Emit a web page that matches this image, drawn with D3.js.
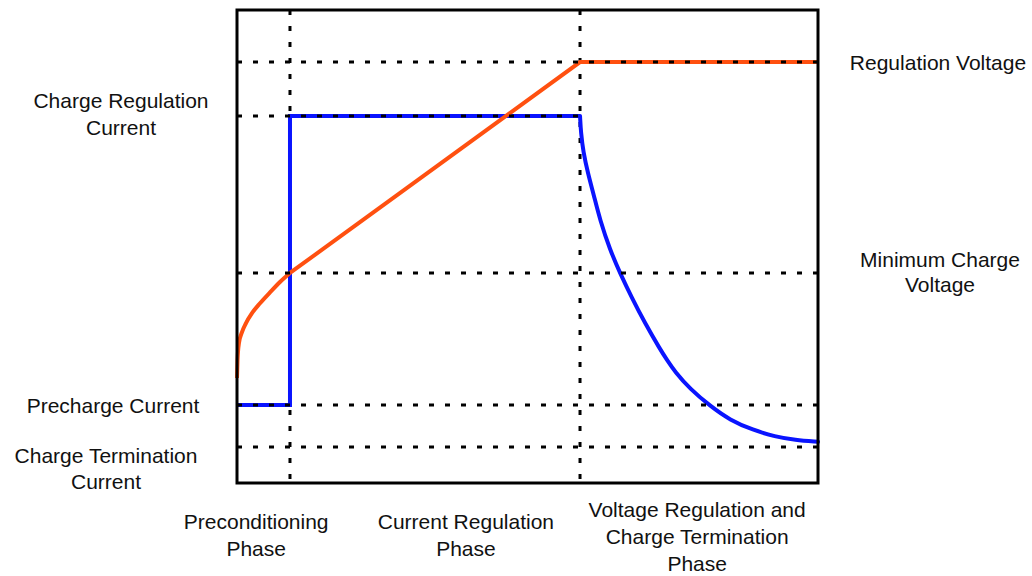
<!DOCTYPE html>
<html>
<head>
<meta charset="utf-8">
<script src="https://cdn.jsdelivr.net/npm/d3@7"></script>
<style>
    html, body { margin: 0; padding: 0; background: #fff; }
    text { font-family: "Liberation Sans", Arial, sans-serif; font-size: 21px; fill: #111; }
</style>
</head>
<body>
<svg id="charge-profile-chart"></svg>
<script>
// time axis 0..100 (phase boundaries), level axis 0..100
const PHASE_BOUNDARIES = [9.12, 59.04];

const PHASES = [
    { lines: ["Preconditioning", "Phase"], at: 3.3 },
    { lines: ["Current Regulation", "Phase"], at: 39.4 },
    { lines: ["Voltage Regulation and", "Charge Termination", "Phase"], at: 79.2 }
];

const CURRENT_LEVELS = [
    { level: 77.6, lines: ["Charge Regulation", "Current"], to: 59.04 },
    { level: 16.5, lines: ["Precharge Current"], to: 100 },
    { level: 7.6, lines: ["Charge Termination", "Current"], to: 100 }
];

const VOLTAGE_LEVELS = [
    { level: 89.0, lines: ["Regulation Voltage"], to: 100 },
    { level: 44.4, lines: ["Minimum Charge", "Voltage"], to: 100 }
];

// battery voltage (orange)
const VOLTAGE_PRECHARGE = [
    [0, 22.2], [0.09, 26.0], [0.34, 29.6], [0.86, 31.9], [1.55, 33.8],
    [2.58, 35.9], [3.96, 38.0], [5.68, 40.3], [7.40, 42.5], [9.12, 44.4]
];
const VOLTAGE_RAMP = [[9.12, 44.4], [59.04, 89.0], [100, 89.0]];

// charge current (blue)
const CURRENT_STEP = [[0, 16.5], [9.12, 16.5], [9.12, 77.6], [59.04, 77.6]];
const CURRENT_TAPER = [
    [59.04, 77.6], [59.20, 74.0], [59.60, 70.0], [60.40, 65.5], [61.45, 60.7],
    [62.48, 55.6], [64.20, 49.3], [65.92, 44.4], [67.99, 39.1], [70.22, 33.8],
    [72.81, 28.3], [74.01, 26.0], [75.39, 23.5], [77.97, 19.9], [81.41, 16.3],
    [84.85, 13.3], [88.81, 11.2], [92.60, 9.8], [96.04, 9.1], [100, 8.7]
];

const WIDTH = 1032;
const HEIGHT = 576;
const PLOT = { left: 237, right: 818, top: 10, bottom: 483 };

const LEFT_LABEL_LAYOUT = [
    { x: 121, dy: -8, lineHeight: 27 },
    { x: 113, dy: 8, lineHeight: 26 },
    { x: 106, dy: 16, lineHeight: 26 }
];
const RIGHT_LABEL_LAYOUT = [
    { x: 938, dy: 8, lineHeight: 25 },
    { x: 940, dy: -6, lineHeight: 25 }
];

const svg = d3.select("#charge-profile-chart")
    .attr("width", WIDTH)
    .attr("height", HEIGHT);

const xScale = d3.scaleLinear().domain([0, 100]).range([PLOT.left, PLOT.right]);
const yScale = d3.scaleLinear().domain([0, 100]).range([PLOT.bottom, PLOT.top]);

const straight = d3.line()
    .x(d => xScale(d[0]))
    .y(d => yScale(d[1]));
const smooth = d3.line()
    .x(d => xScale(d[0]))
    .y(d => yScale(d[1]))
    .curve(d3.curveMonotoneX);
const spline = d3.line()
    .x(d => xScale(d[0]))
    .y(d => yScale(d[1]))
    .curve(d3.curveBasis);

// vertical phase separators (under the traces)
svg.selectAll(".phase-line")
    .data(PHASE_BOUNDARIES)
    .enter()
    .append("line")
        .classed("phase-line", true)
        .attr("x1", d => xScale(d))
        .attr("x2", d => xScale(d))
        .attr("y1", yScale(100))
        .attr("y2", yScale(0))
        .attr("stroke", "#000")
        .attr("stroke-width", 3)
        .attr("stroke-dasharray", "5,11");

// traces
const ORANGE = "#ff5010";
const BLUE = "#0a14ff";

svg.append("path")
    .attr("d", straight(CURRENT_STEP))
    .attr("fill", "none").attr("stroke", BLUE).attr("stroke-width", 4);
svg.append("path")
    .attr("d", spline(CURRENT_TAPER))
    .attr("fill", "none").attr("stroke", BLUE).attr("stroke-width", 4)
    .attr("stroke-linecap", "round");
svg.append("path")
    .attr("d", smooth(VOLTAGE_PRECHARGE))
    .attr("fill", "none").attr("stroke", ORANGE).attr("stroke-width", 4);
svg.append("path")
    .attr("d", straight(VOLTAGE_RAMP))
    .attr("fill", "none").attr("stroke", ORANGE).attr("stroke-width", 4);

// horizontal level lines (on top of the traces)
const levels = CURRENT_LEVELS.concat(VOLTAGE_LEVELS);
svg.selectAll(".level-line")
    .data(levels)
    .enter()
    .append("line")
        .classed("level-line", true)
        .attr("x1", xScale(0))
        .attr("x2", d => xScale(d.to))
        .attr("y1", d => yScale(d.level))
        .attr("y2", d => yScale(d.level))
        .attr("stroke", "#000")
        .attr("stroke-width", 3)
        .attr("stroke-dasharray", "5,11");

// frame
svg.append("rect")
    .attr("x", PLOT.left)
    .attr("y", PLOT.top)
    .attr("width", PLOT.right - PLOT.left)
    .attr("height", PLOT.bottom - PLOT.top)
    .attr("fill", "none")
    .attr("stroke", "#000")
    .attr("stroke-width", 3);

function addLabel(x, y, lines, lineHeight) {
    let label = svg.append("text")
        .attr("x", x)
        .attr("y", y)
        .style("text-anchor", "middle");
    lines.forEach((line, i) => {
        label.append("tspan")
            .attr("x", x)
            .attr("y", y + i * lineHeight)
            .text(line);
    });
}

CURRENT_LEVELS.forEach((d, i) => {
    const layout = LEFT_LABEL_LAYOUT[i];
    addLabel(layout.x, yScale(d.level) + layout.dy, d.lines, layout.lineHeight);
});

VOLTAGE_LEVELS.forEach((d, i) => {
    const layout = RIGHT_LABEL_LAYOUT[i];
    addLabel(layout.x, yScale(d.level) + layout.dy, d.lines, layout.lineHeight);
});

PHASES.forEach(d => {
    const firstBaseline = d.lines.length > 2 ? 517 : 529;
    addLabel(xScale(d.at), firstBaseline, d.lines, 27);
});
</script>
</body>
</html>
